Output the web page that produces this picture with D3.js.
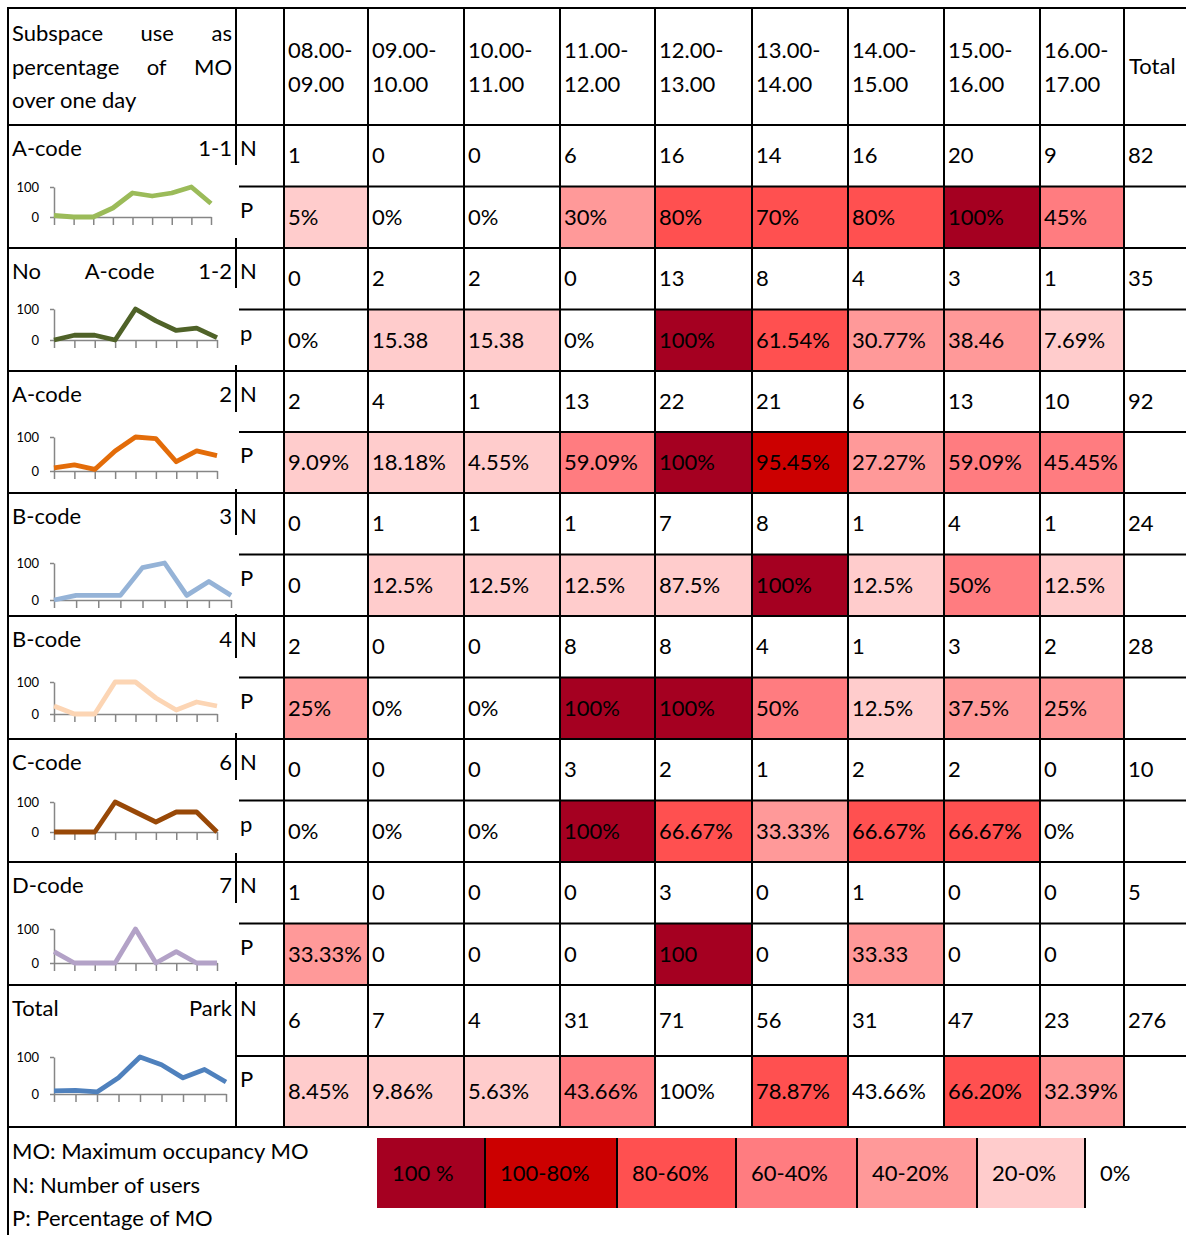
<!DOCTYPE html>
<html>
<head>
<meta charset="utf-8">
<script src="https://cdn.jsdelivr.net/npm/d3@7"></script>
<style>
  html, body { margin: 0; padding: 0; background: #fff; }
  svg { display: block; font-family: Lato, "Open Sans", sans-serif; }
</style>
</head>
<body>
<svg id="chart" width="1186" height="1235"></svg>
<script>
// ---- data ----
const timeSlots = ["08.00-09.00", "09.00-10.00", "10.00-11.00", "11.00-12.00", "12.00-13.00",
                   "13.00-14.00", "14.00-15.00", "15.00-16.00", "16.00-17.00"];
const subspaces = [["A-code", "1-1"], ["No", "A-code", "1-2"], ["A-code", "2"], ["B-code", "3"],
                   ["B-code", "4"], ["C-code", "6"], ["D-code", "7"], ["Total", "Park"]];
const pRowLetters = ["P", "p", "P", "P", "P", "p", "P", "P"];
const userCounts = [
  [1, 0, 0, 6, 16, 14, 16, 20, 9],
  [0, 2, 2, 0, 13, 8, 4, 3, 1],
  [2, 4, 1, 13, 22, 21, 6, 13, 10],
  [0, 1, 1, 1, 7, 8, 1, 4, 1],
  [2, 0, 0, 8, 8, 4, 1, 3, 2],
  [0, 0, 0, 3, 2, 1, 2, 2, 0],
  [1, 0, 0, 0, 3, 0, 1, 0, 0],
  [6, 7, 4, 31, 71, 56, 31, 47, 23]
];
const userTotals = [82, 35, 92, 24, 28, 10, 5, 276];
const moPercent = [
  ["5%", "0%", "0%", "30%", "80%", "70%", "80%", "100%", "45%"],
  ["0%", "15.38", "15.38", "0%", "100%", "61.54%", "30.77%", "38.46", "7.69%"],
  ["9.09%", "18.18%", "4.55%", "59.09%", "100%", "95.45%", "27.27%", "59.09%", "45.45%"],
  ["0", "12.5%", "12.5%", "12.5%", "87.5%", "100%", "12.5%", "50%", "12.5%"],
  ["25%", "0%", "0%", "100%", "100%", "50%", "12.5%", "37.5%", "25%"],
  ["0%", "0%", "0%", "100%", "66.67%", "33.33%", "66.67%", "66.67%", "0%"],
  ["33.33%", "0", "0", "0", "100", "0", "33.33", "0", "0"],
  ["8.45%", "9.86%", "5.63%", "43.66%", "100%", "78.87%", "43.66%", "66.20%", "32.39%"]
];
// shading band of each P cell (index into bandLabels)
const shadeBands = [
  [5, 6, 6, 4, 2, 2, 2, 0, 3],
  [6, 5, 5, 6, 0, 2, 4, 4, 5],
  [5, 5, 5, 3, 0, 1, 4, 3, 3],
  [6, 5, 5, 5, 5, 0, 5, 3, 5],
  [4, 6, 6, 0, 0, 3, 5, 4, 4],
  [6, 6, 6, 0, 2, 4, 2, 2, 6],
  [4, 6, 6, 6, 0, 6, 4, 6, 6],
  [5, 5, 5, 3, 6, 2, 6, 2, 4]
];
const bandLabels = ["100 %", "100-80%", "80-60%", "60-40%", "40-20%", "20-0%", "0%"];
const notes = ["MO: Maximum occupancy MO", "N: Number of users", "P: Percentage of MO"];
const headerTitle = [["Subspace", "use", "as"], ["percentage", "of", "MO"], ["over one day"]];

// ---- styles ----
const bandColors = ["#A50021", "#CC0000", "#FF5050", "#FF7C80", "#FF9999", "#FFCCCC", "#FFFFFF"];
const lineColors = ["#9BBB59", "#4F6228", "#E36C09", "#95B3D7", "#FCD5B4", "#984807", "#B3A2C7", "#4F81BD"];
const FS = 22;
const GRID = "#000";

// ---- layout ----
const colEdges = [8, 236, 284, 368, 464, 560, 655, 752, 848, 944, 1040, 1124, 1186];
const groupEdges = [125, 248, 371, 493, 616, 739, 862, 985, 1127];
const tableTop = 8, tableRight = 1186;
// sparkline frame per group: white box that masks the grid, and plot geometry
const sparkBoxes = [[165, 238], [288, 365], [412, 489], [535, 614], [658, 733], [780, 853], [903, 982], null];
const sparkPlots = [
  { y100: 187, y0: 217, xEnd: 211 }, { y100: 309, y0: 340, xEnd: 217 },
  { y100: 437, y0: 471, xEnd: 217 }, { y100: 563, y0: 600, xEnd: 231 },
  { y100: 682, y0: 714, xEnd: 217 }, { y100: 802, y0: 832, xEnd: 217 },
  { y100: 929, y0: 963, xEnd: 217 }, { y100: 1057, y0: 1094, xEnd: 226 }
];
const legendEdges = [377, 485, 617, 736, 857, 977, 1085];
const legendY = [1138, 1208];

const svg = d3.select("#chart");

const slotLeft = d3.scaleOrdinal().domain(timeSlots).range(colEdges.slice(2, 11));
const slotRight = d3.scaleOrdinal().domain(timeSlots).range(colEdges.slice(3, 12));
const groupTop = d3.scaleOrdinal().domain(d3.range(subspaces.length)).range(groupEdges.slice(0, -1));
const groupBottom = d3.scaleOrdinal().domain(d3.range(subspaces.length)).range(groupEdges.slice(1));
const groupSplit = i => (groupTop(i) + groupBottom(i)) / 2;

// ---- P-cell shading ----
const fills = svg.append("g");
subspaces.forEach((s, i) => {
  fills.selectAll(null).data(timeSlots).join("rect")
    .attr("x", d => slotLeft(d))
    .attr("y", groupSplit(i))
    .attr("width", d => slotRight(d) - slotLeft(d))
    .attr("height", groupBottom(i) - groupSplit(i))
    .attr("fill", (d, j) => bandColors[shadeBands[i][j]]);
});

// ---- grid ----
const grid = svg.append("g").attr("stroke", GRID).attr("stroke-width", 2);
[tableTop, ...groupEdges].forEach(y =>
  grid.append("line").attr("x1", 7).attr("x2", tableRight).attr("y1", y).attr("y2", y));
subspaces.forEach((s, i) =>
  grid.append("line").attr("x1", colEdges[1]).attr("x2", tableRight)
    .attr("y1", groupSplit(i)).attr("y2", groupSplit(i)));
grid.append("line").attr("x1", colEdges[0]).attr("x2", colEdges[0]).attr("y1", 7).attr("y2", 1235);
colEdges.slice(1, 12).forEach(x =>
  grid.append("line").attr("x1", x).attr("x2", x).attr("y1", 7).attr("y2", groupEdges[groupEdges.length - 1] + 1));

// ---- text helpers ----
const txt = svg.append("g").attr("font-size", FS).attr("fill", "#000");
function justify(words, x0, x1, y) {
  const nodes = words.map(w => txt.append("text").attr("y", y).text(w));
  if (words.length === 1) { nodes[0].attr("x", x0); return; }
  const widths = nodes.map(n => n.node().getComputedTextLength());
  const gap = (x1 - x0 - d3.sum(widths)) / (words.length - 1);
  let x = x0;
  nodes.forEach((n, k) => { n.attr("x", x); x += widths[k] + gap; });
}

// header
headerTitle.forEach((line, k) => justify(line, 12, 232, [41, 75, 108][k]));
timeSlots.forEach(t => {
  const [a, b] = t.split("-");
  txt.append("text").attr("x", slotLeft(t) + 4).attr("y", 58).text(a + "-");
  txt.append("text").attr("x", slotLeft(t) + 4).attr("y", 92).text(b);
});
txt.append("text").attr("x", colEdges[11] + 5).attr("y", 74).text("Total");

// ---- sparklines ----
const spark = svg.append("g");
subspaces.forEach((s, i) => {
  const box = sparkBoxes[i];
  if (box) spark.append("rect").attr("x", 10).attr("y", box[0]).attr("width", 229)
    .attr("height", box[1] - box[0]).attr("fill", "#fff");
  const L = sparkPlots[i];
  const vals = moPercent[i].map(v => parseFloat(v));
  const x = d3.scalePoint().domain(d3.range(vals.length)).range([54, L.xEnd]);
  const y = d3.scaleLinear().domain([0, 100]).range([L.y0, L.y100]);
  const g = spark.append("g");
  const xa = g.append("g").attr("transform", `translate(0,${L.y0})`)
    .call(d3.axisBottom(x).tickSize(8).tickSizeOuter(0).tickFormat(""));
  const ya = g.append("g").attr("transform", "translate(54,0)")
    .call(d3.axisLeft(y).tickValues([0, 100]).tickSize(4).tickSizeOuter(0).tickPadding(11));
  [xa, ya].forEach(a => {
    a.selectAll("path, line").attr("stroke", "#868686").attr("stroke-width", 1.5);
  });
  ya.selectAll("text").attr("font-family", "Lato, sans-serif").attr("font-size", 13)
    .attr("fill", "#000");
  g.append("path").datum(vals)
    .attr("fill", "none").attr("stroke", lineColors[i]).attr("stroke-width", 4.8)
    .attr("stroke-linejoin", "round")
    .attr("d", d3.line().x((d, j) => x(j)).y(d => y(d)));
});

// ---- body text ----
subspaces.forEach((s, i) => {
  const top = groupTop(i), mid = groupSplit(i), bot = groupBottom(i);
  justify(s, 12, 232, top + 31);
  txt.append("text").attr("x", 240).attr("y", top + 31).text("N");
  txt.append("text").attr("x", 240).attr("y", mid + 31).text(pRowLetters[i]);
  const nBase = (top + mid) / 2 + 7.5, pBase = (mid + bot) / 2 + 7.5;
  timeSlots.forEach((t, j) => {
    txt.append("text").attr("x", slotLeft(t) + 4).attr("y", nBase).text(userCounts[i][j]);
    txt.append("text").attr("x", slotLeft(t) + 4).attr("y", pBase).text(moPercent[i][j]);
  });
  txt.append("text").attr("x", colEdges[11] + 4).attr("y", nBase).text(userTotals[i]);
});

// ---- notes & legend ----
notes.forEach((n, k) => txt.append("text").attr("x", 12).attr("y", [1159, 1193, 1226][k]).text(n));
const legend = svg.append("g");
bandLabels.forEach((b, k) => {
  const x0 = legendEdges[k];
  if (k < bandLabels.length - 1) {
    legend.append("rect").attr("x", x0).attr("y", legendY[0])
      .attr("width", legendEdges[k + 1] - x0).attr("height", legendY[1] - legendY[0])
      .attr("fill", bandColors[k]);
  }
  legend.append("text").attr("x", x0 + 15).attr("y", 1180.5).attr("font-size", FS).text(b);
});
legend.selectAll(null).data(legendEdges.slice(1)).join("line")
  .attr("x1", d => d).attr("x2", d => d).attr("y1", legendY[0]).attr("y2", legendY[1])
  .attr("stroke", GRID).attr("stroke-width", 2);
</script>
</body>
</html>
